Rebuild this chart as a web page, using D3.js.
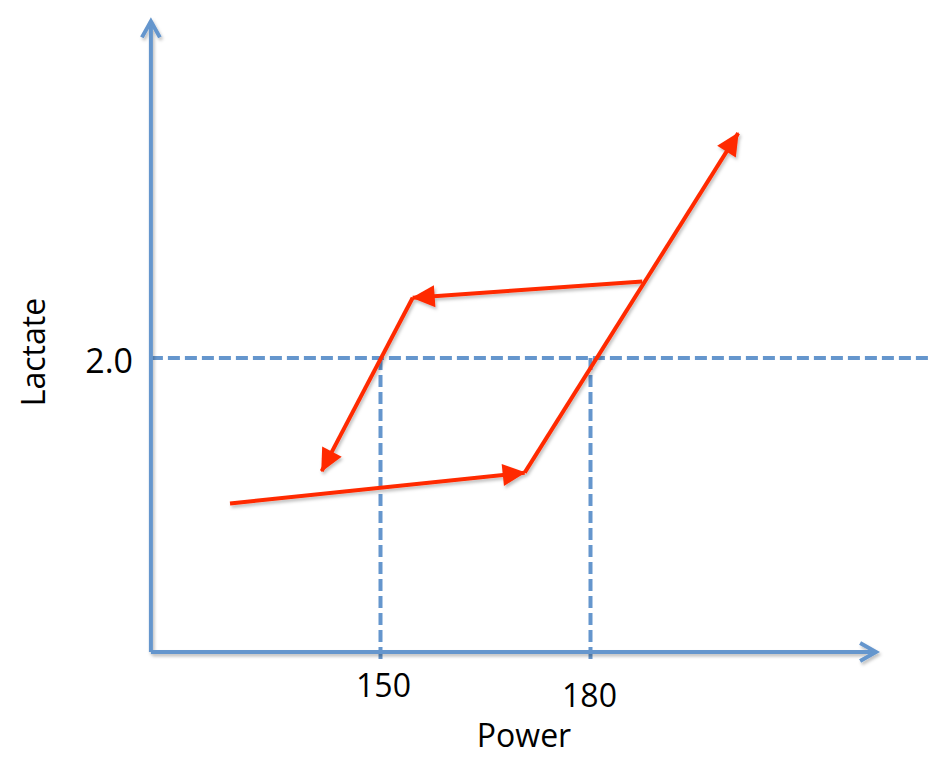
<!DOCTYPE html>
<html>
<head>
<meta charset="utf-8">
<script src="https://cdn.jsdelivr.net/npm/d3@7"></script>
<style>
  body { margin: 0; background: #fff; }
  text { font-family: "Open Sans", sans-serif; fill: #000; }
</style>
</head>
<body>
<div id="chart"></div>
<script>
// power / lactate
var tickPower = [150, 180];
var tickLabels = ["150", "180"];
var thresholdLactate = 2.0;
var thresholdLabel = "2.0";

// red path: ramp up then ramp down (each segment gets an arrow head)
var rampUp = [
  { power: 128.5, lactate: 1.01 },
  { power: 170.6, lactate: 1.22 },
  { power: 201.1, lactate: 3.53 }
];
var rampDown = [
  { power: 187.4, lactate: 2.52 },
  { power: 154.6, lactate: 2.41 },
  { power: 141.6, lactate: 1.23 }
];

var axisPower = [117.2, 220.8];
var axisLactate = [0, 4.29];
var dashEndPower = 228.5;

var width = 941, height = 764;
var blue = "#6596cd", red = "#ff2a00";

var x = d3.scaleLinear().domain([150, 180]).range([380.5, 590.5]);
var y = d3.scaleLinear().domain([0, 2]).range([652, 358]);

var svg = d3.select("#chart").append("svg")
  .attr("width", width)
  .attr("height", height);

var defs = svg.append("defs");

var shadow = defs.append("filter").attr("id", "shadow")
  .attr("x", "-20%").attr("y", "-20%").attr("width", "140%").attr("height", "140%");
shadow.append("feDropShadow")
  .attr("dx", 1.5).attr("dy", 2.5).attr("stdDeviation", 1.5)
  .attr("flood-color", "#000").attr("flood-opacity", 0.25);

defs.append("marker").attr("id", "chevron")
  .attr("markerUnits", "userSpaceOnUse")
  .attr("viewBox", "-20 -12 24 24")
  .attr("markerWidth", 24).attr("markerHeight", 24)
  .attr("refX", 0).attr("refY", 0)
  .attr("orient", "auto")
  .append("path")
  .attr("d", "M-16,-9L0,0L-16,9")
  .attr("fill", "none")
  .attr("stroke", blue)
  .attr("stroke-width", 4)
  .attr("stroke-linejoin", "miter");

defs.append("marker").attr("id", "tri")
  .attr("markerUnits", "userSpaceOnUse")
  .attr("viewBox", "-24 -13 28 26")
  .attr("markerWidth", 28).attr("markerHeight", 26)
  .attr("refX", 0).attr("refY", 0)
  .attr("orient", "auto")
  .append("path")
  .attr("d", "M-22,-11L1,0L-22,11Z")
  .attr("fill", red);

// dashed guides
var guides = svg.append("g")
  .attr("stroke", blue)
  .attr("stroke-width", 4)
  .attr("stroke-dasharray", "12,5")
  .attr("fill", "none");

guides.append("line")
  .attr("x1", x(axisPower[0])).attr("x2", x(dashEndPower))
  .attr("y1", y(thresholdLactate)).attr("y2", y(thresholdLactate));

guides.selectAll("line.v")
  .data(tickPower)
  .enter().append("line")
  .attr("class", "v")
  .attr("x1", function(d){ return x(d); })
  .attr("x2", function(d){ return x(d); })
  .attr("y1", y(thresholdLactate))
  .attr("y2", y(-0.05));

// axes
var axes = svg.append("g").attr("filter", "url(#shadow)")
  .attr("stroke", blue).attr("stroke-width", 4);

axes.append("line")
  .attr("x1", x(axisPower[0])).attr("y1", y(axisLactate[0]))
  .attr("x2", x(axisPower[1])).attr("y2", y(axisLactate[0]))
  .attr("marker-end", "url(#chevron)");

axes.append("line")
  .attr("x1", x(axisPower[0])).attr("y1", y(axisLactate[0]))
  .attr("x2", x(axisPower[0])).attr("y2", y(axisLactate[1]))
  .attr("marker-end", "url(#chevron)");

// red arrows, one per segment
function segments(pts) {
  return d3.pairs(pts);
}

var arrows = svg.append("g").attr("filter", "url(#shadow)");
arrows.selectAll("line")
  .data(segments(rampUp).concat(segments(rampDown)))
  .enter().append("line")
  .attr("x1", function(d){ return x(d[0].power); })
  .attr("y1", function(d){ return y(d[0].lactate); })
  .attr("x2", function(d){ return x(d[1].power); })
  .attr("y2", function(d){ return y(d[1].lactate); })
  .attr("stroke", red)
  .attr("stroke-width", 4)
  .attr("marker-end", "url(#tri)");

// labels
svg.selectAll("text.tick")
  .data(tickPower)
  .enter().append("text")
  .attr("class", "tick")
  .attr("x", function(d){ return x(d) + (d === 180 ? -1 : 3); })
  .attr("y", function(d, i){ return i === 0 ? 697 : 707; })
  .attr("text-anchor", "middle")
  .style("font-size", "32px")
  .text(function(d, i){ return tickLabels[i]; });

svg.append("text")
  .attr("x", 133)
  .attr("y", y(thresholdLactate) + 15)
  .attr("text-anchor", "end")
  .style("font-size", "34px")
  .text(thresholdLabel);

svg.append("text")
  .attr("x", 524)
  .attr("y", 747)
  .attr("text-anchor", "middle")
  .style("font-size", "32px")
  .text("Power");

svg.append("text")
  .attr("transform", "translate(45,352) rotate(-90)")
  .attr("text-anchor", "middle")
  .style("font-size", "32px")
  .text("Lactate");
</script>
</body>
</html>
